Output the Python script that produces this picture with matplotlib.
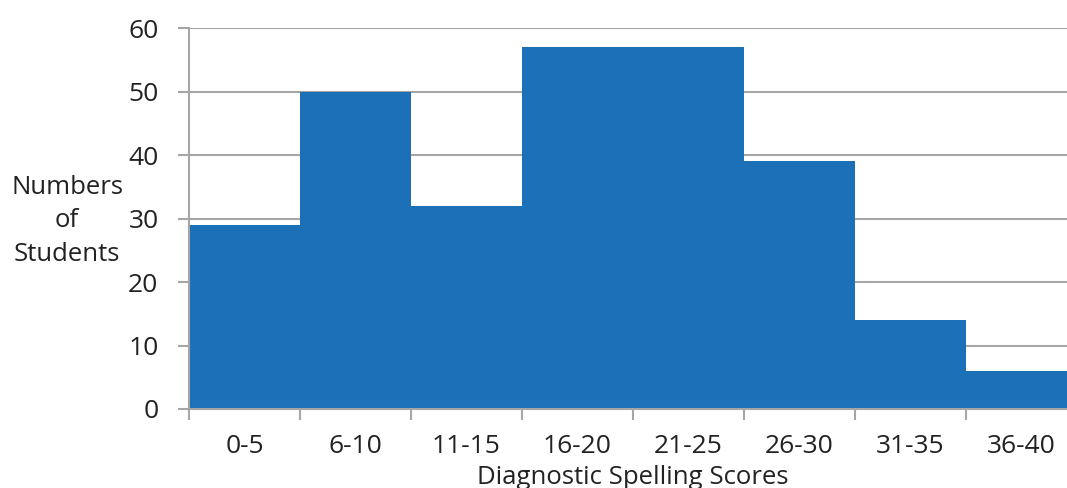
import numpy as np
import matplotlib.pyplot as plt

plt.rcParams['font.family'] = ['Open Sans', 'DejaVu Sans']

score_bins = ['0-5', '6-10', '11-15', '16-20', '21-25', '26-30', '31-35', '36-40']
num_students = [29, 50, 32, 57, 57, 39, 14, 6]
y_ticks = [0, 10, 20, 30, 40, 50, 60]

bar_color = '#1b70b8'
grid_color = '#a6a6a6'
text_color = '#222222'

fig = plt.figure(figsize=(10.67, 4.88), dpi=100)
# right edge of the plot runs past the picture, as in the original
ax = fig.add_axes([189 / 1067, 1 - 409 / 488, 888 / 1067, 381 / 488])

x = np.arange(len(score_bins))
ax.bar(x, num_students, width=1.0, align='edge', color=bar_color, zorder=2)

ax.set_xlim(0, len(score_bins))
ax.set_ylim(0, 60)
ax.set_yticks(y_ticks)
ax.yaxis.grid(True, color=grid_color, linewidth=1.5, zorder=0)
ax.set_axisbelow(True)

ax.set_xticks(x + 0.5)
ax.set_xticklabels(score_bins)
ax.set_xticks(np.arange(len(score_bins) + 1), minor=True)
ax.tick_params(axis='x', which='major', length=0, pad=18, labelsize=19, colors=text_color)
ax.tick_params(axis='x', which='minor', length=8, width=1.5, color=grid_color)
ax.tick_params(axis='y', length=8, width=1.5, color=grid_color, pad=14,
               labelsize=19, labelcolor=text_color)

for side in ['top', 'right']:
    ax.spines[side].set_visible(False)
for side in ['left', 'bottom']:
    ax.spines[side].set_color(grid_color)
    ax.spines[side].set_linewidth(1.5)

ax.set_xlabel('Diagnostic Spelling Scores', fontsize=18.5, color=text_color, labelpad=4)
fig.text(67 / 1067, 1 - 221 / 488, 'Numbers\nof\nStudents', ha='center', va='center',
         fontsize=18.5, color=text_color, linespacing=1.45)

fig.savefig('out.png', dpi=100)
